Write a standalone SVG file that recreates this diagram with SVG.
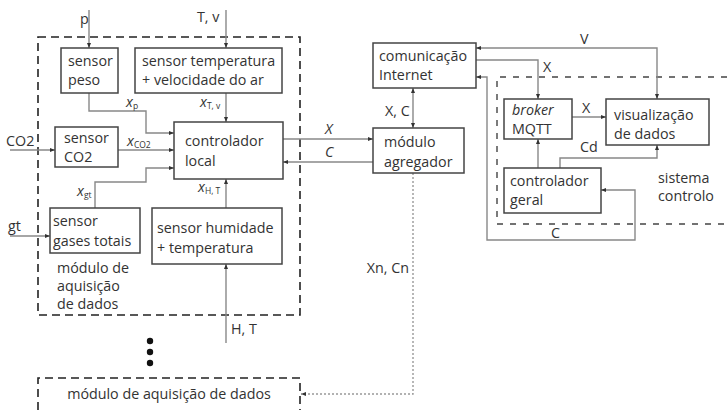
<svg xmlns="http://www.w3.org/2000/svg" width="727" height="411" viewBox="0 0 727 411">
<defs>
<marker id="ah" viewBox="0 0 10 10" refX="10" refY="5" markerWidth="5" markerHeight="5" orient="auto-start-reverse" markerUnits="userSpaceOnUse"><path d="M0,1 L10,5 L0,9 z" fill="#333"/></marker>
</defs>
<style>
text{font-family:"Open Sans","DejaVu Sans",sans-serif;font-size:14.3px;fill:#333}
.sub{font-size:8.5px;font-style:normal}
.it{font-style:italic}
.box{fill:#fff;stroke:#444;stroke-width:1.5}
.dash{fill:none;stroke:#222;stroke-width:1.6;stroke-dasharray:8 5}
.dash2{fill:none;stroke:#444;stroke-width:1.4;stroke-dasharray:6 7}
.c{fill:none;stroke:#888;stroke-width:1.4}
.dot{fill:none;stroke:#999;stroke-width:1.4;stroke-dasharray:2 2}
</style>
<rect width="727" height="411" fill="#fff"/>
<g id="frames">
<rect class="dash" x="38" y="37" width="262" height="278"/>
<path class="dash" d="M38,410 V378 H300 V410"/>
<path class="dash2" d="M727,77 H497 V224 H727"/>
</g>
<g id="connectors">
<path class="c" d="M89,10 V48" marker-end="url(#ah)"/>
<path class="c" d="M226,10 V48" marker-end="url(#ah)"/>
<path class="c" d="M89,93 V111 H146 V133 H174" marker-end="url(#ah)"/>
<path class="c" d="M226,93 V122" marker-end="url(#ah)"/>
<path class="c" d="M118,150 H174" marker-end="url(#ah)"/>
<path class="c" d="M95,208 V182 H146 V168 H174" marker-end="url(#ah)"/>
<path class="c" d="M226,208 V179" marker-end="url(#ah)"/>
<path class="c" d="M226,343 V264" marker-end="url(#ah)"/>
<path class="c" d="M10,150 H55" marker-end="url(#ah)"/>
<path class="c" d="M10,236 H50" marker-end="url(#ah)"/>
<path class="c" d="M283,139 H373" marker-end="url(#ah)"/>
<path class="c" d="M373,162 H283" marker-end="url(#ah)"/>
<path class="c" d="M413,88 V128" marker-start="url(#ah)" marker-end="url(#ah)"/>
<path class="dot" d="M413,173 V394 H301" marker-end="url(#ah)"/>
<path class="c" d="M476,48 H657 V99" marker-start="url(#ah)" marker-end="url(#ah)"/>
<path class="c" d="M476,60 H538 V99" marker-end="url(#ah)"/>
<path class="c" d="M476,77 H487 V240 H635 V190 H601" marker-start="url(#ah)" marker-end="url(#ah)"/>
<path class="c" d="M572,117 H606" marker-end="url(#ah)"/>
<path class="c" d="M538,168 V139" marker-end="url(#ah)"/>
<path class="c" d="M560,168 V158 H657 V145" marker-end="url(#ah)"/>
</g>
<g id="sensor-peso"><rect class="box" x="61" y="48" width="57" height="45"/><text x="68" y="66">sensor</text><text x="68" y="85">peso</text></g>
<g id="sensor-temperatura"><rect class="box" x="135" y="48" width="147" height="45"/><text x="142" y="66">sensor temperatura</text><text x="142" y="85">+ velocidade do ar</text></g>
<g id="sensor-co2"><rect class="box" x="55" y="127" width="63" height="40"/><text x="64" y="143">sensor</text><text x="64" y="162">CO2</text></g>
<g id="controlador-local"><rect class="box" x="174" y="122" width="109" height="57"/><text x="185" y="146">controlador</text><text x="185" y="166">local</text></g>
<g id="sensor-gases"><rect class="box" x="50" y="208" width="90" height="45"/><text x="53" y="226">sensor</text><text x="53" y="246">gases totais</text></g>
<g id="sensor-humidade"><rect class="box" x="152" y="208" width="130" height="56"/><text x="157" y="233">sensor humidade</text><text x="157" y="253">+ temperatura</text></g>
<g id="comunicacao"><rect class="box" x="373" y="43" width="103" height="45"/><text x="379" y="61">comunicação</text><text x="379" y="80">Internet</text></g>
<g id="agregador"><rect class="box" x="373" y="128" width="91" height="45"/><text x="384" y="147">módulo</text><text x="384" y="167">agregador</text></g>
<g id="broker"><rect class="box" x="504" y="99" width="68" height="40"/><text x="512" y="115" class="it">broker</text><text x="512" y="134">MQTT</text></g>
<g id="visualizacao"><rect class="box" x="606" y="99" width="103" height="46"/><text x="614" y="120">visualização</text><text x="614" y="139">de dados</text></g>
<g id="controlador-geral"><rect class="box" x="504" y="168" width="97" height="45"/><text x="510" y="186">controlador</text><text x="510" y="205">geral</text></g>
<g id="labels">
<text x="80" y="24">p</text>
<text x="197" y="22">T, v</text>
<text x="126" y="107" class="it">x<tspan class="sub" dy="2">p</tspan></text>
<text x="200" y="107" class="it">x<tspan class="sub" dy="2">T, v</tspan></text>
<text x="127" y="146" class="it">x<tspan class="sub" dy="2">CO2</tspan></text>
<text x="77" y="196" class="it">x<tspan class="sub" dy="2">gt</tspan></text>
<text x="198" y="192" class="it">x<tspan class="sub" dy="2">H, T</tspan></text>
<text x="6" y="146">CO2</text>
<text x="8" y="231">gt</text>
<text x="325" y="134" class="it">X</text>
<text x="325" y="157" class="it">C</text>
<text x="385" y="116">X, C</text>
<text x="409" y="273" text-anchor="end">Xn, Cn</text>
<text x="231" y="334">H, T</text>
<text x="57" y="273">módulo de</text>
<text x="57" y="291">aquisição</text>
<text x="57" y="309">de dados</text>
<text x="169" y="399" text-anchor="middle">módulo de aquisição de dados</text>
<text x="580" y="44">V</text>
<text x="543" y="72">X</text>
<text x="582" y="113">X</text>
<text x="580" y="152">Cd</text>
<text x="551" y="238">C</text>
<text x="658" y="183">sistema</text>
<text x="658" y="201">controlo</text>
<circle cx="150" cy="341" r="3.2" fill="#111"/>
<circle cx="150" cy="352" r="3.2" fill="#111"/>
<circle cx="150" cy="363" r="3.2" fill="#111"/>
</g>
</svg>
